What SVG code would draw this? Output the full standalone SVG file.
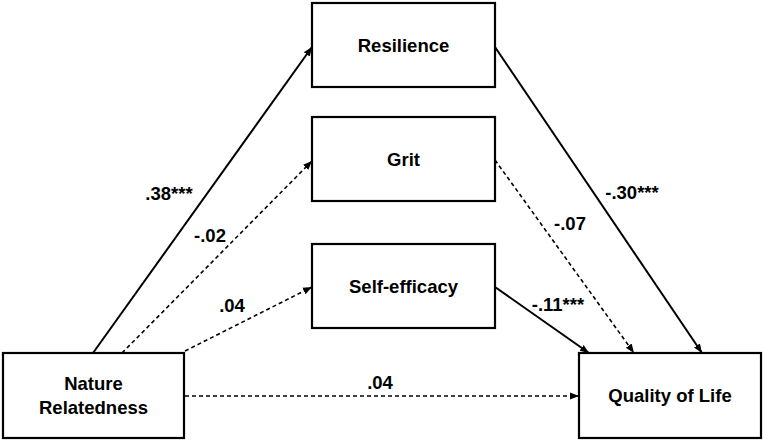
<svg xmlns="http://www.w3.org/2000/svg" width="763" height="441" viewBox="0 0 763 441">
<defs>
<style>
.box{fill:#fff;stroke:#000;stroke-width:2.2}
.t{font-family:"Liberation Sans",Arial,sans-serif;font-size:18.5px;font-weight:bold;fill:#000;text-anchor:middle}
.s{fill:none;stroke:#000;stroke-width:2}
.d{fill:none;stroke:#000;stroke-width:1.6;stroke-dasharray:4 3}
</style>
<marker id="ahs" viewBox="0 0 10 10" refX="10" refY="5" markerWidth="9" markerHeight="9" orient="auto" markerUnits="userSpaceOnUse">
<path d="M0,1 L10,5 L0,9 z" fill="#000"/>
</marker>
</defs>
<rect width="763" height="441" fill="#fff"/>
<g id="connectors">
<line class="s" x1="93" y1="353" x2="312" y2="47" marker-end="url(#ahs)"/>
<line class="d" x1="122" y1="353" x2="312" y2="161" marker-end="url(#ahs)"/>
<line class="d" x1="185" y1="351" x2="312" y2="287" marker-end="url(#ahs)"/>
<line class="d" x1="185" y1="396" x2="579" y2="396" marker-end="url(#ahs)"/>
<line class="s" x1="495" y1="47" x2="702" y2="353" marker-end="url(#ahs)"/>
<line class="d" x1="495" y1="160" x2="634" y2="353" marker-end="url(#ahs)"/>
<line class="s" x1="495" y1="287" x2="589" y2="353" marker-end="url(#ahs)"/>
<text class="t" x="169" y="200">.38***</text>
<text class="t" x="210" y="242">-.02</text>
<text class="t" x="232" y="312">.04</text>
<text class="t" x="380" y="389">.04</text>
<text class="t" x="632" y="199">-.30***</text>
<text class="t" x="570" y="230">-.07</text>
<text class="t" x="558" y="311">-.11***</text>
</g>
<g id="resilience"><rect class="box" x="312" y="3" width="183" height="84"/><text class="t" x="403.5" y="52">Resilience</text></g>
<g id="grit"><rect class="box" x="312" y="117" width="183" height="84"/><text class="t" x="403.5" y="166">Grit</text></g>
<g id="self-efficacy"><rect class="box" x="312" y="244" width="183" height="84"/><text class="t" x="403.5" y="293">Self-efficacy</text></g>
<g id="nature-relatedness"><rect class="box" x="3" y="353" width="181" height="85"/><text class="t" x="93.5" y="390">Nature</text><text class="t" x="93.5" y="414">Relatedness</text></g>
<g id="quality-of-life"><rect class="box" x="579" y="353" width="182" height="85"/><text class="t" x="670" y="402">Quality of Life</text></g>
</svg>
